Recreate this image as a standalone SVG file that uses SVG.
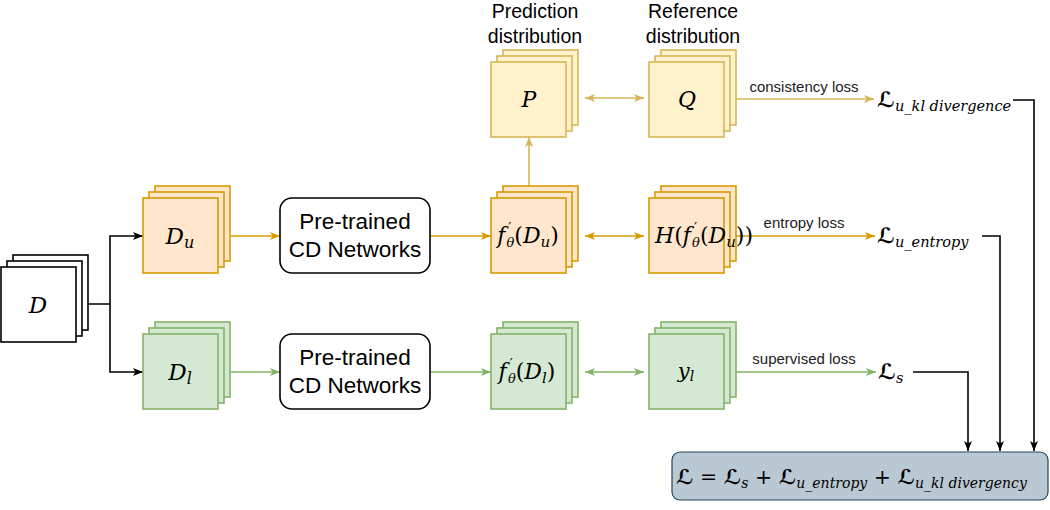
<svg xmlns="http://www.w3.org/2000/svg" width="1050" height="510" viewBox="0 0 1050 510">
<style>
.st rect{stroke-width:1.6}
.k rect{fill:#ffffff;stroke:#000000}
.o rect{fill:#ffe6cc;stroke:#d79b00}
.g rect{fill:#d5e8d4;stroke:#82b366}
.y rect{fill:#fff2cc;stroke:#d6b656}
.pt{fill:#ffffff;stroke:#000000;stroke-width:1.6}
.lbl{font-family:"Liberation Sans",Arial,sans-serif;fill:#000}
.el{font-family:"Liberation Sans",Arial,sans-serif;font-size:15px;fill:#222}
.m{font-family:"DejaVu Serif","Liberation Serif",serif;font-style:italic;fill:#000}
.cal{font-family:"DejaVu Serif","DejaVu Sans",serif;font-style:normal;font-weight:bold}
.up{font-style:normal}
.c{fill:none;stroke-width:1.6}
.ck{stroke:#000}
.co{stroke:#d79b00}
.cg{stroke:#82b366}
.cy{stroke:#d6b656}
</style>
<defs>
<marker id="ak" viewBox="0 0 10 8" refX="10" refY="4" markerWidth="10" markerHeight="8" markerUnits="userSpaceOnUse" orient="auto-start-reverse"><path d="M0,0 L10,4 L0,8 L2.5,4 Z" fill="#000"/></marker>
<marker id="ao" viewBox="0 0 10 8" refX="10" refY="4" markerWidth="10" markerHeight="8" markerUnits="userSpaceOnUse" orient="auto-start-reverse"><path d="M0,0 L10,4 L0,8 L2.5,4 Z" fill="#d79b00"/></marker>
<marker id="ag" viewBox="0 0 10 8" refX="10" refY="4" markerWidth="10" markerHeight="8" markerUnits="userSpaceOnUse" orient="auto-start-reverse"><path d="M0,0 L10,4 L0,8 L2.5,4 Z" fill="#82b366"/></marker>
<marker id="ay" viewBox="0 0 10 8" refX="10" refY="4" markerWidth="10" markerHeight="8" markerUnits="userSpaceOnUse" orient="auto-start-reverse"><path d="M0,0 L10,4 L0,8 L2.5,4 Z" fill="#d6b656"/></marker>
</defs>

<g id="connectors">
<path class="c ck" d="M88,304 H110 V236 H143" marker-end="url(#ak)"/>
<path class="c ck" d="M110,304 V372 H143" marker-end="url(#ak)"/>
<path class="c co" d="M230,236 H280" marker-end="url(#ao)"/>
<path class="c co" d="M430,236 H491" marker-end="url(#ao)"/>
<path class="c co" d="M585,236 H644" marker-start="url(#ao)" marker-end="url(#ao)"/>
<path class="c co" d="M736,236 H875" marker-end="url(#ao)"/>
<path class="c cy" d="M529,186 V137" marker-end="url(#ay)"/>
<path class="c cy" d="M585,98 H644" marker-start="url(#ay)" marker-end="url(#ay)"/>
<path class="c cy" d="M736,99 H874" marker-end="url(#ay)"/>
<path class="c cg" d="M230,372 H280" marker-end="url(#ag)"/>
<path class="c cg" d="M430,372 H491" marker-end="url(#ag)"/>
<path class="c cg" d="M585,372 H644" marker-start="url(#ag)" marker-end="url(#ag)"/>
<path class="c cg" d="M736,372 H876" marker-end="url(#ag)"/>
<path class="c ck" d="M1013,100 H1034 V451" marker-end="url(#ak)"/>
<path class="c ck" d="M982,236 H1000 V451" marker-end="url(#ak)"/>
<path class="c ck" d="M913,372 H968 V451" marker-end="url(#ak)"/>
<text class="el" x="804" y="92" text-anchor="middle">consistency loss</text>
<text class="el" x="804" y="228" text-anchor="middle">entropy loss</text>
<text class="el" x="804" y="364" text-anchor="middle">supervised loss</text>
</g>

<g id="node-D" class="st k">
<rect x="13" y="255" width="75" height="75"/>
<rect x="7" y="261" width="75" height="75"/>
<rect x="1" y="267" width="75" height="75"/>
<text class="m" x="38" y="313" font-size="23" text-anchor="middle">D</text>
</g>

<g id="node-Du" class="st o">
<rect x="155" y="186" width="75" height="75"/>
<rect x="149" y="192" width="75" height="75"/>
<rect x="143" y="198" width="75" height="75"/>
<text class="m" x="180" y="244" font-size="23" text-anchor="middle">D<tspan font-size="16" dy="4">u</tspan></text>
</g>

<g id="node-Dl" class="st g">
<rect x="155" y="322" width="75" height="75"/>
<rect x="149" y="328" width="75" height="75"/>
<rect x="143" y="334" width="75" height="75"/>
<text class="m" x="180" y="380" font-size="23" text-anchor="middle">D<tspan font-size="16" dy="4">l</tspan></text>
</g>

<g id="node-pt1">
<rect class="pt" x="280" y="198" width="150" height="75" rx="12"/>
<text class="lbl" x="355" y="229" font-size="22.5" text-anchor="middle">Pre-trained</text>
<text class="lbl" x="355" y="257" font-size="22.5" text-anchor="middle">CD Networks</text>
</g>

<g id="node-pt2">
<rect class="pt" x="280" y="334" width="150" height="75" rx="12"/>
<text class="lbl" x="355" y="365" font-size="22.5" text-anchor="middle">Pre-trained</text>
<text class="lbl" x="355" y="393" font-size="22.5" text-anchor="middle">CD Networks</text>
</g>

<g id="node-fDu" class="st o">
<rect x="503" y="186" width="75" height="75"/>
<rect x="497" y="192" width="75" height="75"/>
<rect x="491" y="198" width="75" height="75"/>
<text class="m" x="528" y="243" font-size="22" text-anchor="middle">f<tspan font-size="14" dx="3" dy="-10" class="up">′</tspan><tspan font-size="13" dx="-5" dy="14">θ</tspan><tspan class="up" dy="-4">(</tspan>D<tspan font-size="15" dy="4">u</tspan><tspan class="up" dy="-4">)</tspan></text>
</g>

<g id="node-H" class="st o">
<rect x="661" y="186" width="75" height="75"/>
<rect x="655" y="192" width="75" height="75"/>
<rect x="649" y="198" width="75" height="75"/>
<text class="m" x="704" y="243" font-size="22" text-anchor="middle">H<tspan class="up">(</tspan>f<tspan font-size="14" dx="3" dy="-10" class="up">′</tspan><tspan font-size="13" dx="-5" dy="14">θ</tspan><tspan class="up" dy="-4">(</tspan>D<tspan font-size="15" dy="4">u</tspan><tspan class="up" dy="-4">))</tspan></text>
</g>

<g id="node-fDl" class="st g">
<rect x="503" y="322" width="75" height="75"/>
<rect x="497" y="328" width="75" height="75"/>
<rect x="491" y="334" width="75" height="75"/>
<text class="m" x="527" y="379" font-size="22" text-anchor="middle">f<tspan font-size="14" dx="3" dy="-10" class="up">′</tspan><tspan font-size="13" dx="-5" dy="14">θ</tspan><tspan class="up" dy="-4">(</tspan>D<tspan font-size="15" dy="4">l</tspan><tspan class="up" dy="-4">)</tspan></text>
</g>

<g id="node-yl" class="st g">
<rect x="661" y="322" width="75" height="75"/>
<rect x="655" y="328" width="75" height="75"/>
<rect x="649" y="334" width="75" height="75"/>
<text class="m" x="686" y="378" font-size="21" text-anchor="middle">y<tspan font-size="14" dy="3">l</tspan></text>
</g>

<g id="node-P" class="st y">
<rect x="503" y="50" width="75" height="75"/>
<rect x="497" y="56" width="75" height="75"/>
<rect x="491" y="62" width="75" height="75"/>
<text class="m" x="529" y="107" font-size="22" text-anchor="middle">P</text>
<text class="lbl" x="535" y="18" font-size="19.5" text-anchor="middle">Prediction</text>
<text class="lbl" x="535" y="43" font-size="19.5" text-anchor="middle">distribution</text>
</g>

<g id="node-Q" class="st y">
<rect x="661" y="50" width="75" height="75"/>
<rect x="655" y="56" width="75" height="75"/>
<rect x="649" y="62" width="75" height="75"/>
<text class="m" x="687" y="107" font-size="22" text-anchor="middle">Q</text>
<text class="lbl" x="693" y="18" font-size="19.5" text-anchor="middle">Reference</text>
<text class="lbl" x="693" y="43" font-size="19.5" text-anchor="middle">distribution</text>
</g>

<g id="node-Lkl">
<text class="m" x="877" y="107" font-size="21"><tspan class="cal">ℒ</tspan><tspan font-size="14.5" dy="4">u_kl divergence</tspan></text>
</g>
<g id="node-Lent">
<text class="m" x="877" y="243" font-size="21"><tspan class="cal">ℒ</tspan><tspan font-size="14.5" dy="4">u_entropy</tspan></text>
</g>
<g id="node-Ls">
<text class="m" x="878" y="379" font-size="21"><tspan class="cal">ℒ</tspan><tspan font-size="14.5" dy="4">s</tspan></text>
</g>

<g id="node-total">
<rect x="672" y="452" width="376" height="48" rx="8" fill="#bac8d3" stroke="#23445d" stroke-width="1.2"/>
<text class="m" x="676" y="484" font-size="20.5"><tspan class="cal">ℒ</tspan><tspan class="up"> = </tspan><tspan class="cal">ℒ</tspan><tspan font-size="14" dy="4">s</tspan><tspan class="up" dy="-4"> + </tspan><tspan class="cal">ℒ</tspan><tspan font-size="14" dy="4">u_entropy</tspan><tspan class="up" dy="-4"> + </tspan><tspan class="cal">ℒ</tspan><tspan font-size="14" dy="4">u_kl divergency</tspan></text>
</g>
</svg>
